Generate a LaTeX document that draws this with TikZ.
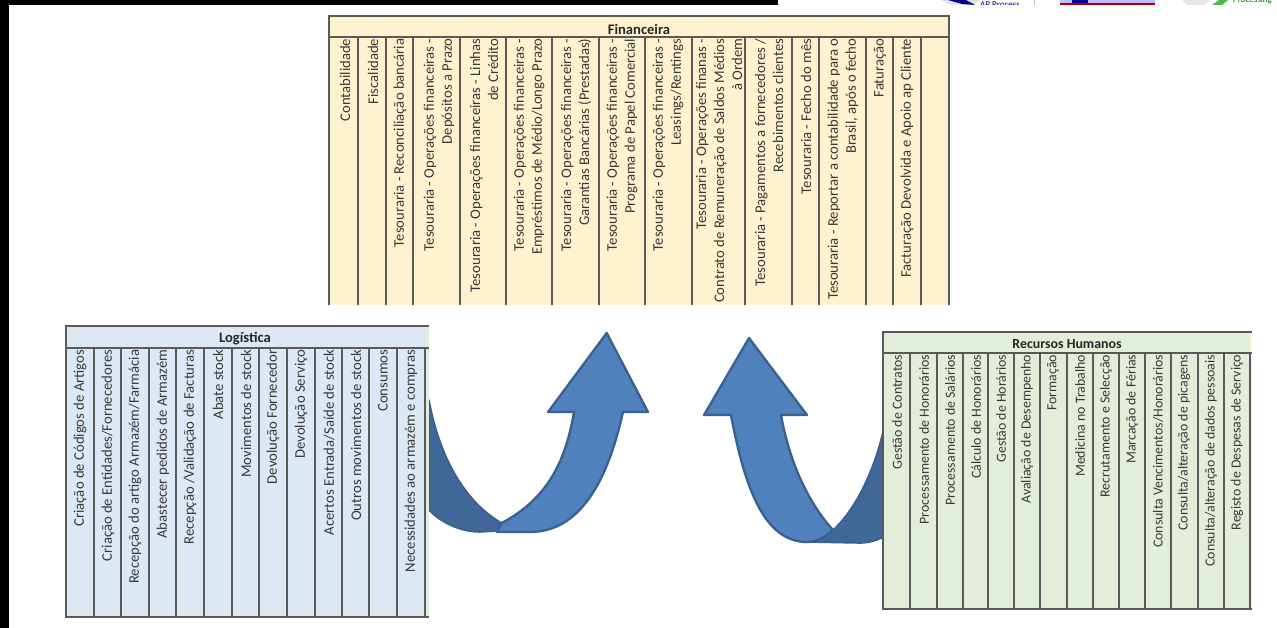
\documentclass[tikz,border=0pt]{standalone}
\usepackage{fontspec}
\setmainfont{Carlito}
\definecolor{fin}{HTML}{FFF2CF}
\definecolor{logi}{HTML}{DCE9F5}
\definecolor{rh}{HTML}{E2EEDA}
\definecolor{arrmain}{HTML}{4F81BD}
\definecolor{arrdark}{HTML}{3F6797}
\definecolor{arrline}{HTML}{3A6090}
\definecolor{rule}{HTML}{5A5A5A}
\tikzset{
  tablebox/.style={draw=rule,line width=1.3pt},
  colrule/.style={draw=rule,line width=1.3pt},
  headtext/.style={font=\fontsize{14.6}{16}\selectfont\bfseries,text=black!85,inner sep=0pt},
  coltext/.style={rotate=90,anchor=east,align=right,inner sep=0pt,font=\fontsize{14.7}{18}\selectfont,text=black!78},
  coltextrh/.style={coltext,font=\fontsize{13.9}{17}\selectfont},
  arrowmain/.style={fill=arrmain,draw=arrline,line width=2.3pt,line join=round},
  arrowdark/.style={fill=arrdark,draw=arrline,line width=1.6pt,line join=round}
}
\begin{document}
\begin{tikzpicture}[x=1pt,y=-1pt]
\useasboundingbox (0,0) rectangle (1277,628);
\fill[white] (0,0) rectangle (1277,628);
% black strips
\fill[black] (0,0) rectangle (778,5);
\fill[black] (0,0) rectangle (9,628);
% logos (cut off by the top edge)
\begin{scope}
\clip (930,0) rectangle (1277,5);
\fill[black!12] (941,0) -- (980,0) -- (974,5) -- (952,5) -- cycle;
\fill[blue!55!black] (948,0) -- (966,0) -- (975,5) -- (962,4) -- cycle;
\fill[black!25] (1033.5,0) rectangle (1035,5);
\fill[blue!25!white] (1060,0) rectangle (1155,3);
\fill[blue!60!black] (1072,0) rectangle (1088,3);
\fill[red!70!black] (1060,3) rectangle (1155,5);
\fill[black!10] (1182,0) -- (1210,0) -- (1204,5) -- (1187,5) -- cycle;
\fill[green!60!black!70] (1212,5) -- (1219,0) -- (1228,0) -- (1222,5) -- cycle;
\node[anchor=base west,inner sep=0pt,font=\fontsize{9}{9}\selectfont,text=blue!55!black] (lg1) at (980,8) {AP Process};
\node[anchor=base west,inner sep=0pt,font=\fontsize{9}{9}\selectfont,text=green!45!black] (lg2) at (1233,3) {Processing};
\end{scope}
% left arrow
\draw[arrowdark] (429,400) .. controls (441,465) and (470,505) .. (501.7,523) -- (497,531) -- (480,532)
  .. controls (460,532) and (440,522) .. (429,510) -- cycle;
\draw[arrowmain] (606.7,333) -- (648,412) -- (623,412)
  .. controls (610,470) and (585,532) .. (530,532) -- (497,532)
  -- (501.7,523) .. controls (545,500) and (565,465) .. (574,412) -- (548,412) -- cycle;
% right arrow
\draw[arrowdark] (884,427) .. controls (875,470) and (855,510) .. (833,530) -- (807,542)
  -- (860,543) .. controls (870,543) and (877,540) .. (884,537) -- cycle;
\draw[arrowmain] (749,338) -- (807,415) -- (781,415)
  .. controls (790,465) and (810,505) .. (833,530)
  .. controls (825,538) and (815,542) .. (807,542)
  .. controls (765,542) and (745,490) .. (731,415) -- (704,415) -- cycle;
% Financeira
\fill[fin] (329,16) rectangle (949,305);
\draw[tablebox] (329,305) -- (329,16) -- (949,16) -- (949,305);
\draw[colrule] (329,37) -- (949,37);
\foreach \x in {358,386,413,460,506,552,599,645,692,745,792,819,866,893,921}
  \draw[colrule] (\x,37) -- (\x,305);
\node[headtext] (fh) at (639,29.5) {Financeira};
\node[coltext] (f1) at (345,38.5) {Contabilidade};
\node[coltext] (f2) at (373,38.5) {Fiscalidade};
\node[coltext] (f3) at (400,38.5) {Tesouraria - Reconciliação bancária};
\node[coltext] (f4) at (439,38.5) {Tesouraria - Operações financeiras -\\Depósitos a Prazo};
\node[coltext] (f5) at (484,38.5) {Tesouraria - Operações financeiras - Linhas\\de Crédito};
\node[coltext] (f6) at (529,38.5) {Tesouraria - Operações financeiras -\\Empréstimos de Médio/Longo Prazo};
\node[coltext] (f7) at (576,38.5) {Tesouraria - Operações financeiras -\\Garantias Bancárias (Prestadas)};
\node[coltext] (f8) at (622,38.5) {Tesouraria - Operações financeiras -\\Programa de Papel Comercial};
\node[coltext] (f9) at (668,38.5) {Tesouraria - Operações financeiras -\\Leasings/Rentings};
\node[coltext] (f10) at (719,38.5) {Tesouraria - Operações finanas -\\Contrato de Remuneração de Saldos Médios\\à Ordem};
\node[coltext] (f11) at (769,38.5) {Tesouraria - Pagamentos a fornecedores /\\Recebimentos clientes};
\node[coltext] (f12) at (806,38.5) {Tesouraria - Fecho do mês};
\node[coltext] (f13) at (843,38.5) {Tesouraria - Reportar a contabilidade para o\\Brasil, após o fecho};
\node[coltext] (f14) at (880,38.5) {Faturação};
\node[coltext] (f15) at (907,38.5) {Facturação Devolvida e Apoio ap Cliente};
% Logistica
\fill[rh] (425,326) rectangle (429,617);
\fill[logi] (66,326) rectangle (425,617);
\draw[tablebox] (429,326) -- (66,326) -- (66,617) -- (429,617);
\draw[colrule] (66,348) -- (429,348);
\foreach \x in {94,121,149,176,204,232,259,287,315,342,369,397,425}
  \draw[colrule] (\x,348) -- (\x,617);
\node[headtext] (lh) at (245,339) {Logística};
\node[coltext] (l1) at (80,349.5) {Criação de Códigos de Artigos};
\node[coltext] (l2) at (108,349.5) {Criação de Entidades/Fornecedores};
\node[coltext] (l3) at (135,349.5) {Recepção do artigo Armazém/Farmácia};
\node[coltext] (l4) at (163,349.5) {Abastecer pedidos de Armazém};
\node[coltext] (l5) at (190,349.5) {Recepção /Validação de Facturas};
\node[coltext] (l6) at (218,349.5) {Abate stock};
\node[coltext] (l7) at (246,349.5) {Movimentos de stock};
\node[coltext] (l8) at (273,349.5) {Devolução Fornecedor};
\node[coltext] (l9) at (301,349.5) {Devolução Serviço};
\node[coltext] (l10) at (329,349.5) {Acertos Entrada/Saíde de stock};
\node[coltext] (l11) at (356,349.5) {Outros movimentos de stock};
\node[coltext] (l12) at (383,349.5) {Consumos};
\node[coltext] (l13) at (411,349.5) {Necessidades ao armazém e compras};
% Recursos Humanos
\fill[fin] (1250,332) rectangle (1252,609);
\fill[rh] (883,332) rectangle (1250,609);
\draw[tablebox] (1252,332) -- (883,332) -- (883,609) -- (1252,609);
\draw[colrule] (883,353) -- (1252,353);
\foreach \x in {910,937,963,988,1014,1040,1067,1093,1119,1145,1171,1198,1224,1250}
  \draw[colrule] (\x,353) -- (\x,609);
\node[headtext,font=\fontsize{13.9}{16}\selectfont\bfseries] (rhh) at (1067,344) {Recursos Humanos};
\node[coltextrh] (r1) at (897,354.5) {Gestão de Contratos};
\node[coltextrh] (r2) at (924,354.5) {Processamento de Honorários};
\node[coltextrh] (r3) at (950,354.5) {Processamento de Salários};
\node[coltextrh] (r4) at (976,354.5) {Cálculo de Honorários};
\node[coltextrh] (r5) at (1001,354.5) {Gestão de Horários};
\node[coltextrh] (r6) at (1027,354.5) {Avaliação de Desempenho};
\node[coltextrh] (r7) at (1053,354.5) {Formação};
\node[coltextrh] (r8) at (1080,354.5) {Medicina no Trabalho};
\node[coltextrh] (r9) at (1106,354.5) {Recrutamento e Selecção};
\node[coltextrh] (r10) at (1132,354.5) {Marcação de Férias};
\node[coltextrh] (r11) at (1158,354.5) {Consulta Vencimentos/Honorários};
\node[coltextrh] (r12) at (1184,354.5) {Consulta/alteração de picagens};
\node[coltextrh] (r13) at (1211,354.5) {Consulta/alteração de dados pessoais};
\node[coltextrh] (r14) at (1237,354.5) {Registo de Despesas de Serviço};
\end{tikzpicture}
\end{document}
